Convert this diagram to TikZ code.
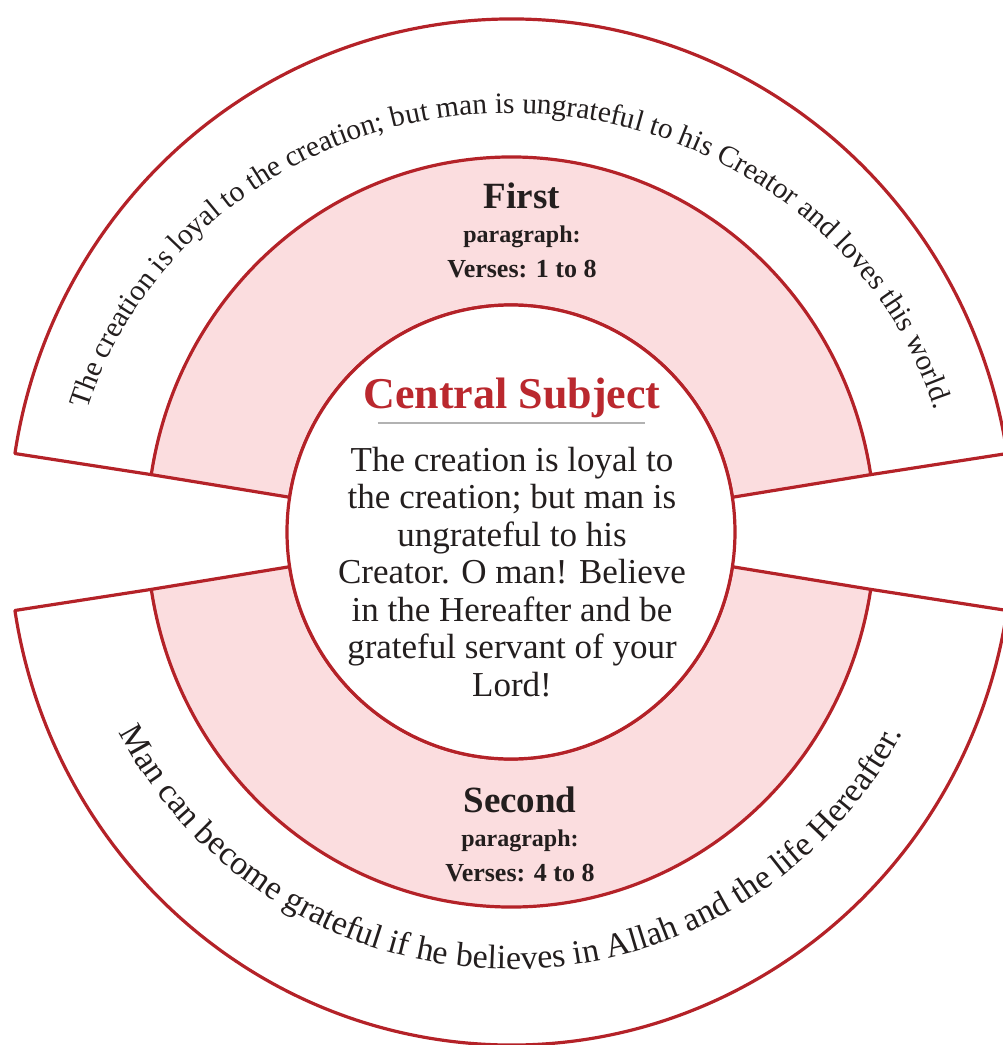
\documentclass[tikz,border=0pt]{standalone}
\usepackage{fontspec}
\setmainfont{Liberation Serif}
\usetikzlibrary{decorations.text}
\definecolor{ringred}{RGB}{180, 34, 40}
\definecolor{ringpink}{RGB}{251, 221, 223}
\definecolor{subjred}{RGB}{186, 40, 46}
\definecolor{inkgray}{RGB}{35, 30, 30}

\begin{document}
\begin{tikzpicture}[x=1pt, y=1pt,
    ring/.style={draw=ringred, line width=3.2pt, line join=round},
    heading/.style={anchor=base, text=inkgray, font=\bfseries\fontsize{37}{37}\selectfont},
    subhead/.style={anchor=base, text=inkgray, font=\bfseries\fontsize{24}{24}\selectfont},
    verses/.style={anchor=base, text=inkgray, font=\bfseries\fontsize{26}{26}\selectfont}]
  \useasboundingbox (-511,-513) rectangle (492,532);

  % upper half: pink band and outer band
  \filldraw[ring, fill=ringpink] (8.8:224 and 227) -- (8.8:364 and 375)
    arc[start angle=8.8, end angle=171.2, x radius=364, y radius=375]
    -- (171.2:224 and 227)
    arc[start angle=171.2, end angle=8.8, x radius=224, y radius=227] -- cycle;
  \draw[ring] (8.8:364 and 375) -- (8.8:502 and 513)
    arc[start angle=8.8, end angle=171.2, x radius=502, y radius=513]
    -- (171.2:364 and 375);

  % lower half
  \filldraw[ring, fill=ringpink] (-8.8:224 and 227) -- (-8.8:364 and 375)
    arc[start angle=-8.8, end angle=-171.2, x radius=364, y radius=375]
    -- (-171.2:224 and 227)
    arc[start angle=-171.2, end angle=-8.8, x radius=224, y radius=227] -- cycle;
  \draw[ring] (-8.8:364 and 375) -- (-8.8:502 and 513)
    arc[start angle=-8.8, end angle=-171.2, x radius=502, y radius=513]
    -- (-171.2:364 and 375);

  % central circle
  \draw[ring, fill=white] (0,0) ellipse[x radius=224, y radius=227];

  \node[anchor=base, text=subjred, font=\bfseries\fontsize{44}{44}\selectfont] (title) at (1,124) {Central Subject};
  \draw[gray!60, line width=1.2pt] (-133,109) -- (134,109);
  \node[align=center, inner sep=0pt, text=inkgray, font=\fontsize{35}{37.5}\selectfont] (subject) at (1,-40)
    {The creation is loyal to\\the creation; but man is\\ungrateful to his\\Creator. O man! Believe\\in the Hereafter and be\\grateful servant of your\\Lord!};

  \node[heading] (first) at (11,323) {First};
  \node[subhead] (firstpar) at (11,289) {paragraph:};
  \node[verses] (firstvs) at (11,254) {Verses: 1 to 8};

  \node[heading] (second) at (9,-280) {Second};
  \node[subhead] (secondpar) at (9,-314) {paragraph:};
  \node[verses] (secondvs) at (9,-349) {Verses: 4 to 8};

  % texts along the outer bands
  \path[decorate, decoration={text along path, text align=center, text color=inkgray,
      text={|\fontsize{29.5}{29.5}\selectfont|The creation is loyal to the creation; but man is ungrateful to his Creator and loves this world.}}]
    (176:443 and 419) arc[start angle=176, end angle=4, x radius=443, y radius=419];
  \path[decorate, decoration={text along path, text align=center, text color=inkgray,
      text={|\fontsize{34}{34}\selectfont|Man can become grateful if he believes in Allah and the life Hereafter.}}]
    (194:441 and 437) arc[start angle=194, end angle=346, x radius=441, y radius=437];
\end{tikzpicture}
\end{document}
